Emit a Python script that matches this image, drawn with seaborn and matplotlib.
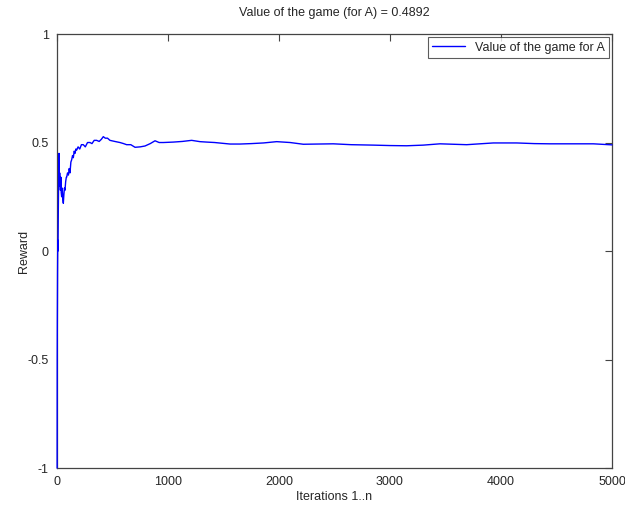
import matplotlib
matplotlib.use("Agg")
import matplotlib.pyplot as plt
import seaborn as sns
import pandas as pd

# Running estimate of the game value for player A over the iterations
iterations = [1, 2, 3, 5, 7, 9, 12, 15, 18, 21, 24, 27, 31, 35, 38, 42, 47, 52, 57, 62,
              67, 72, 78, 84, 87, 95, 103, 110, 117, 125, 132, 140, 147, 155, 162, 170,
              177, 190, 205, 220, 237, 255, 275, 297, 315, 335, 357, 380, 400, 417, 435,
              455, 477, 520, 567, 600, 627, 665, 703, 750, 793, 840, 883, 920, 958,
              1048, 1130, 1213, 1288, 1349, 1420, 1499, 1559, 1649, 1750, 1860, 1979,
              2100, 2219, 2350, 2489, 2650, 2850, 3000, 3150, 3300, 3450, 3570, 3691,
              3810, 3931, 4141, 4300, 4441, 4650, 4832, 5000]
reward = [-1.0, -0.5, -0.33, -0.1, 0.05, 0.0, 0.2, 0.35, 0.45, 0.3, 0.36, 0.33, 0.28, 0.34,
          0.27, 0.25, 0.29, 0.24, 0.22, 0.26, 0.29, 0.28, 0.32, 0.34, 0.34, 0.36, 0.35,
          0.38, 0.36, 0.41, 0.42, 0.44, 0.43, 0.46, 0.45, 0.47, 0.465, 0.48, 0.47, 0.49,
          0.49, 0.48, 0.50, 0.50, 0.495, 0.51, 0.51, 0.505, 0.515, 0.527, 0.52, 0.52,
          0.51, 0.505, 0.50, 0.495, 0.49, 0.49, 0.478, 0.48, 0.484, 0.495, 0.508, 0.50,
          0.50, 0.502, 0.505, 0.51, 0.504, 0.502, 0.50, 0.496, 0.493, 0.493, 0.495,
          0.498, 0.504, 0.50, 0.492, 0.493, 0.494, 0.49, 0.488, 0.486, 0.485, 0.488,
          0.494, 0.492, 0.49, 0.494, 0.498, 0.498, 0.495, 0.494, 0.494, 0.494, 0.4892]

x_ticks = [0, 1000, 2000, 3000, 4000, 5000]
y_ticks = [-1, -0.5, 0, 0.5, 1]
y_tick_labels = ["-1", "-0.5", "0", "0.5", "1"]

df = pd.DataFrame({"Iteration": iterations, "Reward": reward})

sns.set_style("white")
plt.rcParams["font.family"] = ["Liberation Sans", "DejaVu Sans"]

fig = plt.figure(figsize=(6.25, 5.07), dpi=100)
ax = fig.add_axes([0.0912, 0.0769, 0.8880, 0.8560])

sns.lineplot(data=df, x="Iteration", y="Reward", color="#0000ff", linewidth=1.0,
             ax=ax, label="Value of the game for A", zorder=3, clip_on=False)

ax.set_xlim(0, 5000)
ax.set_ylim(-1, 1)
ax.set_xticks(x_ticks)
ax.set_xticklabels([str(t) for t in x_ticks])
ax.set_yticks(y_ticks)
ax.set_yticklabels(y_tick_labels)
ax.tick_params(direction="in", length=5, width=0.8, color="#444444",
               top=True, right=True, labelsize=9, pad=6)
for s in ax.spines.values():
    s.set_color("#444444")
    s.set_linewidth(0.9)

ax.set_xlabel("Iterations 1..n", fontsize=9, labelpad=2)
ax.set_ylabel("Reward", fontsize=9, labelpad=-2)
ax.set_title("Value of the game (for A) = 0.4892", fontsize=9, pad=13)

leg = ax.legend(loc="upper right", fontsize=9, frameon=True, fancybox=False,
                handlelength=2.6, borderaxespad=0.25, borderpad=0.35)
leg.get_frame().set_edgecolor("#333333")
leg.get_frame().set_linewidth(0.8)
leg.set_zorder(5)

fig.savefig("out.png", dpi=100)
